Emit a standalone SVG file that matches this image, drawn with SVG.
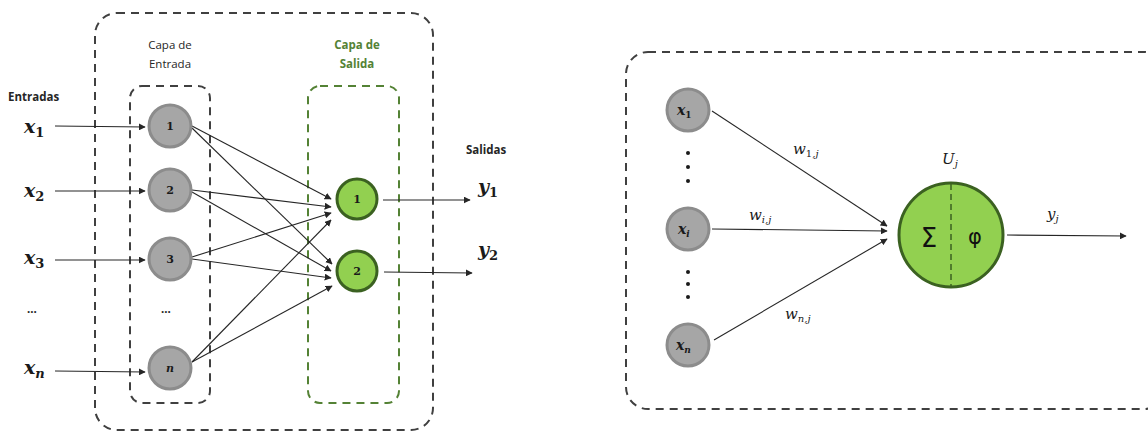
<svg xmlns="http://www.w3.org/2000/svg" width="1148" height="432" viewBox="0 0 1148 432">
  <defs>
    <marker id="arr" viewBox="0 0 10 10" refX="9" refY="5" markerWidth="7" markerHeight="7" markerUnits="userSpaceOnUse" orient="auto">
      <path d="M0,0 L10,5 L0,10 z" fill="#262626"/>
    </marker>
    <style>
      .frame { fill: none; stroke: #404040; stroke-width: 2; stroke-dasharray: 8 6; }
      .gframe { fill: none; stroke: #548235; stroke-width: 2; stroke-dasharray: 8 6; }
      .in { fill: #a6a6a6; stroke: #8c8c8c; stroke-width: 3; }
      .out { fill: #92d050; stroke: #3b6121; stroke-width: 3; }
      .edge { stroke: #262626; stroke-width: 1.1; fill: none; marker-end: url(#arr); }
      .lbl { font-family: "Open Sans", "Liberation Sans", sans-serif; font-size: 11.5px; fill: #262626; }
      .b { font-weight: bold; }
      .green { fill: #548235; }
      .num { font-family: "DejaVu Serif", "Liberation Serif", serif; font-size: 11px; font-weight: bold; fill: #1a1a1a; text-anchor: middle; }
      .m { font-family: "DejaVu Serif", "Liberation Serif", serif; font-style: italic; fill: #1a1a1a; }
      .mb { font-weight: bold; font-size: 19px; }
      .mw { font-size: 15px; }
      .up { font-style: normal; }
      .dot { fill: #1a1a1a; }
    </style>
  </defs>

  <!-- layer frames -->
  <g id="frames">
    <rect class="frame" x="95" y="13" width="338" height="417" rx="22"/>
    <rect class="frame" x="130" y="86" width="80" height="317" rx="12"/>
    <rect class="gframe" x="308" y="86" width="91" height="317" rx="12"/>
    <rect class="frame" x="626" y="52" width="540" height="357" rx="22"/>
  </g>

  <!-- headings -->
  <g id="headings">
    <text class="lbl b" x="8" y="101">Entradas</text>
    <text class="lbl" x="170" y="49" text-anchor="middle">Capa de</text>
    <text class="lbl" x="170" y="68" text-anchor="middle">Entrada</text>
    <text class="lbl b green" x="357" y="49" text-anchor="middle">Capa de</text>
    <text class="lbl b green" x="357" y="68" text-anchor="middle">Salida</text>
    <text class="lbl b" x="466" y="154">Salidas</text>
  </g>

  <!-- connectors -->
  <g id="connectors">
    <line class="edge" x1="55" y1="126" x2="145" y2="127"/>
    <line class="edge" x1="55" y1="191" x2="145" y2="191"/>
    <line class="edge" x1="55" y1="260" x2="145" y2="260"/>
    <line class="edge" x1="55" y1="371" x2="145" y2="372"/>

    <line class="edge" x1="192" y1="126" x2="331" y2="199"/>
    <line class="edge" x1="192" y1="128" x2="332" y2="264"/>
    <line class="edge" x1="192" y1="190" x2="331" y2="207"/>
    <line class="edge" x1="192" y1="192" x2="331" y2="271"/>
    <line class="edge" x1="192" y1="257" x2="331" y2="213"/>
    <line class="edge" x1="192" y1="259" x2="331" y2="278"/>
    <line class="edge" x1="192" y1="362" x2="331" y2="220"/>
    <line class="edge" x1="192" y1="362" x2="332" y2="286"/>

    <line class="edge" x1="383" y1="200" x2="470" y2="200"/>
    <line class="edge" x1="384" y1="272" x2="472" y2="273"/>

    <line class="edge" x1="712" y1="111" x2="887" y2="226"/>
    <line class="edge" x1="712" y1="229" x2="887" y2="231"/>
    <line class="edge" x1="714" y1="340" x2="887" y2="239"/>
    <line class="edge" x1="1007" y1="235" x2="1126" y2="236"/>
  </g>

  <!-- input layer -->
  <g id="in1"><circle class="in" cx="170" cy="126" r="21"/><text class="num" x="170" y="130">1</text></g>
  <g id="in2"><circle class="in" cx="170" cy="190" r="21"/><text class="num" x="170" y="194">2</text></g>
  <g id="in3"><circle class="in" cx="170" cy="259" r="21"/><text class="num" x="170" y="263">3</text></g>
  <g id="inN"><circle class="in" cx="170" cy="368" r="21"/><text class="num" x="170" y="372" font-style="italic">n</text></g>

  <!-- output layer -->
  <g id="out1"><circle class="out" cx="357" cy="199" r="20"/><text class="num" x="357" y="203">1</text></g>
  <g id="out2"><circle class="out" cx="357" cy="271" r="20"/><text class="num" x="357" y="275">2</text></g>

  <!-- input / output symbols -->
  <g id="symbols">
    <text class="m mb" x="24" y="133">x<tspan class="up" font-size="13" dy="4">1</tspan></text>
    <text class="m mb" x="24" y="197">x<tspan class="up" font-size="13" dy="4">2</tspan></text>
    <text class="m mb" x="24" y="264">x<tspan class="up" font-size="13" dy="4">3</tspan></text>
    <text class="m mb" x="24" y="374">x<tspan font-size="13" dy="4">n</tspan></text>
    <text class="lbl b" x="27" y="313">...</text>
    <text class="lbl b" x="161" y="313">...</text>
    <text class="m mb" x="478" y="193">y<tspan class="up" font-size="13" dy="4">1</tspan></text>
    <text class="m mb" x="478" y="256">y<tspan class="up" font-size="13" dy="4">2</tspan></text>
  </g>

  <!-- single neuron -->
  <g id="nx1"><circle class="in" cx="688" cy="110" r="21"/><text class="m" x="677" y="115" font-size="14" font-weight="bold">x<tspan class="up" font-size="9" dy="3">1</tspan></text></g>
  <g id="nxi"><circle class="in" cx="688" cy="229" r="21"/><text class="m" x="678" y="234" font-size="14" font-weight="bold">x<tspan font-size="9" dy="3">i</tspan></text></g>
  <g id="nxn"><circle class="in" cx="688" cy="345" r="21"/><text class="m" x="676" y="350" font-size="14" font-weight="bold">x<tspan font-size="9" dy="3">n</tspan></text></g>

  <g id="dots">
    <circle class="dot" cx="688" cy="153" r="2"/>
    <circle class="dot" cx="688" cy="167" r="2"/>
    <circle class="dot" cx="688" cy="181" r="2"/>
    <circle class="dot" cx="688" cy="272" r="2"/>
    <circle class="dot" cx="688" cy="284" r="2"/>
    <circle class="dot" cx="688" cy="297" r="2"/>
  </g>

  <g id="weights">
    <text class="m mw" x="793" y="154">w<tspan font-size="10" dy="3"><tspan class="up">1</tspan>,j</tspan></text>
    <text class="m mw" x="749" y="220">w<tspan font-size="10" dy="3">i,j</tspan></text>
    <text class="m mw" x="785" y="319">w<tspan font-size="10" dy="3">n,j</tspan></text>
  </g>

  <g id="neuron">
    <circle class="out" cx="951" cy="235" r="52"/>
    <line x1="951" y1="184" x2="951" y2="286" stroke="#3b6121" stroke-width="1.5" stroke-dasharray="6 4"/>
    <text x="929" y="247" font-family="DejaVu Sans, sans-serif" font-size="26" fill="#111" text-anchor="middle">Σ</text>
    <text x="975" y="244" font-family="DejaVu Sans, sans-serif" font-size="21" fill="#111" text-anchor="middle">φ</text>
    <text class="m mw" x="942" y="164">U<tspan font-size="10" dy="3">j</tspan></text>
    <text class="m mw" x="1047" y="219">y<tspan font-size="10" dy="3">j</tspan></text>
  </g>
</svg>
